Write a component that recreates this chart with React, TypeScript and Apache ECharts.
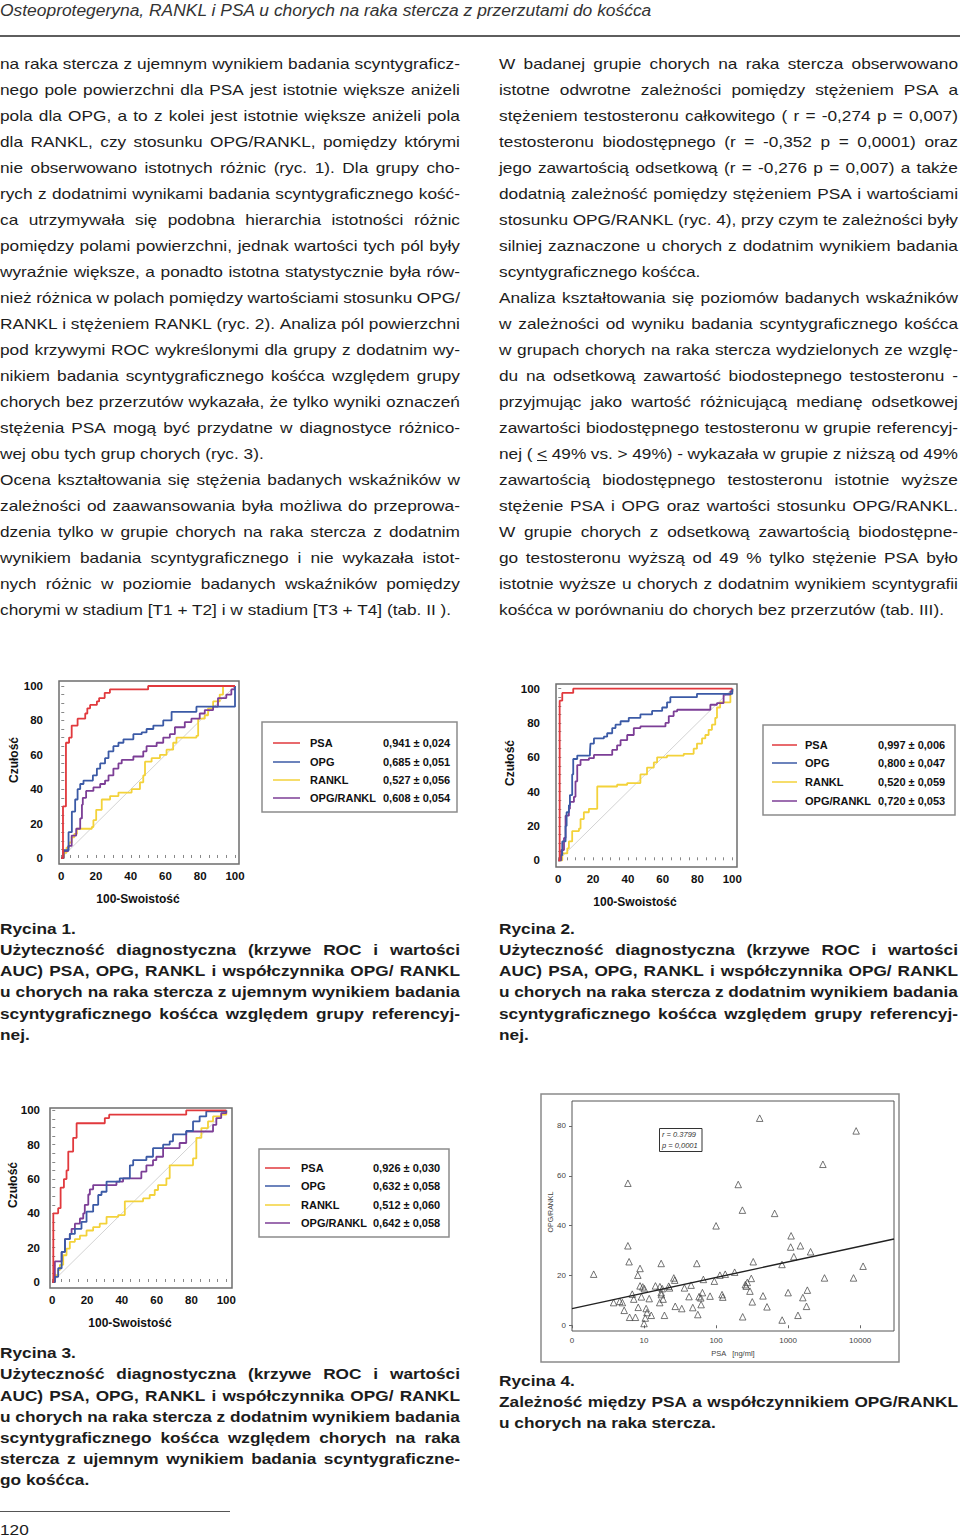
import React, { useEffect, useRef } from "react";
import * as echarts from "echarts";

const FONT = '"Liberation Sans", Arial, Helvetica, sans-serif';
const SX = 1.15;

// ---------------- ROC figure data ----------------
const rocLabelTicks = [0, 20, 40, 60, 80, 100];
const rocMinorTicks = [0, 5, 10, 15, 20, 25, 30, 35, 40, 45, 50, 55, 60, 65, 70, 75, 80, 85, 90, 95, 100];
const rocNames = ["PSA", "OPG", "RANKL", "OPG/RANKL"];
const rocColors = ["#e1393d", "#3b5aa6", "#f3d23a", "#7c3e96"];
const rocDiagonal = [[0, 0], [100, 100]];

// Rycina 1
const fig1Auc = ["0,941 ± 0,024", "0,685 ± 0,051", "0,527 ± 0,056", "0,608 ± 0,054"];
const fig1Psa = [[0, 0], [1, 30], [2.7, 67], [4.5, 70], [6, 77], [9.4, 81], [13.8, 84], [15, 87], [16.6, 89], [20.5, 91], [21.8, 93], [25, 96], [28, 98], [50, 100], [100, 100]];
const fig1Opg = [[0, 0], [1.3, 4.5], [4.2, 15], [6.1, 27], [8, 34], [9.4, 40], [10.9, 43], [12.8, 45], [18.2, 48], [20.5, 52], [22.4, 55], [25.2, 58], [27.2, 62], [30, 65], [32.9, 67], [35.8, 69], [41.5, 72], [46.3, 73], [49.1, 75], [53, 77], [58.7, 80], [63.5, 85], [77.8, 88], [100, 100]];
const fig1Rankl = [[0, 0], [1.5, 3], [3, 6], [4.5, 9], [6, 12], [7.5, 14], [9, 17], [17.6, 18], [18.5, 22], [20.1, 28], [23.3, 34], [28.1, 36], [32.9, 38], [40.5, 40], [45.3, 44], [47.2, 48], [48.2, 56], [52, 58], [56.8, 60], [60.6, 63], [64.4, 67], [66.3, 70], [77.8, 71], [78.8, 81], [82.6, 83], [84.5, 87], [87.4, 91], [91.2, 95], [93.1, 100], [100, 100]];
const fig1Ratio = [[0, 0], [1.3, 4], [4, 7], [6, 13], [8.6, 17], [10.9, 23], [11.9, 31], [12.4, 35], [14.3, 39], [18.5, 41], [22.4, 43], [25.2, 45], [27.2, 48], [30, 52], [32.9, 55], [34.8, 57], [41.5, 59], [47.2, 62], [49.1, 65], [54.9, 67], [58.7, 70], [62.5, 72], [65.4, 76], [71.1, 79], [74.9, 81], [79.7, 84], [82.6, 86], [87.4, 88], [90.2, 93], [95, 95], [97.9, 98], [99.8, 100], [100, 100]];

// Rycina 2
const fig2Auc = ["0,997 ± 0,006", "0,800 ± 0,047", "0,520 ± 0,059", "0,720 ± 0,053"];
const fig2Psa = [[0, 0], [0.8, 93], [2.3, 97.5], [8.6, 100], [100, 100]];
const fig2Opg = [[0, 0], [1.3, 3], [2.3, 11], [4.2, 20], [4.8, 28], [6.1, 32], [6.7, 38], [8, 50], [8.6, 59], [10.9, 61], [18.2, 63], [18.5, 68], [20.5, 71], [26.2, 72], [28.1, 74], [31, 77], [32.9, 79], [35.8, 81], [40.5, 83], [47.2, 85], [53.9, 87], [59.7, 89], [62.5, 92], [64.4, 95], [79.7, 97], [100, 100]];
const fig2Rankl = [[0, 0], [2.3, 4], [5.2, 7], [6.1, 11], [8, 17], [11.9, 18.5], [12.8, 24], [14.7, 28], [17.6, 30], [22.4, 43], [33.8, 44], [39.6, 45], [47.2, 50], [51, 54], [54.9, 57], [56.8, 60], [62.5, 61], [72.1, 62], [77.8, 65], [79.7, 68], [82.6, 71], [84.5, 73], [86.4, 76], [88.3, 79], [90.2, 83], [91.2, 89], [93, 92], [98.9, 98], [100, 100]];
const fig2Ratio = [[0, 0], [1.7, 6], [3.3, 13], [4.2, 26], [6.1, 30], [6.7, 34], [9, 37], [9.9, 46], [10.9, 55.5], [12.8, 58.5], [17.6, 59.5], [20.5, 61.4], [31, 64.3], [33.8, 67], [35.8, 70], [39.6, 73], [43.4, 77], [47.2, 78], [61.6, 80], [63.5, 84], [66.3, 86.7], [68.3, 87.7], [87.4, 90.6], [91.2, 91.6], [95, 96.5], [98.9, 98.4], [100, 100]];

// Rycina 3
const fig3Auc = ["0,926 ± 0,030", "0,632 ± 0,058", "0,512 ± 0,060", "0,642 ± 0,058"];
const fig3Psa = [[0, 0], [0.6, 40], [3.4, 43], [4.8, 55], [6.7, 60], [8.2, 65], [9.2, 76], [12, 84], [14, 92.5], [30.2, 95.5], [32.7, 97.5], [77, 100], [100, 100]];
const fig3Opg = [[0, 0], [1.5, 3], [3.4, 8], [5.4, 17.5], [7.3, 25], [10.1, 28], [13, 31], [16.8, 35], [19.7, 41], [23.5, 45], [26.4, 50.7], [28.3, 52.6], [31.2, 58.5], [38.8, 60.4], [44.6, 68], [46.5, 71], [54.1, 73], [57.9, 78], [63.7, 80], [67.5, 82], [69.4, 86], [77, 88], [80.9, 93.6], [84.7, 96.5], [88.5, 99.4], [100, 100]];
const fig3Rankl = [[0, 0], [1.5, 4], [3.4, 7], [4.4, 10], [6.3, 15.6], [8.2, 19.5], [10.1, 23.4], [13, 25], [15.9, 27], [19.7, 30], [23.5, 32], [27.3, 34], [31.2, 38], [37.9, 39], [41.7, 47], [52.2, 48.7], [56, 50.7], [58.9, 53.6], [60.8, 56.5], [65.6, 60.4], [67.5, 68], [80.9, 72], [82.8, 84], [85.7, 89.7], [89.5, 93.6], [92.4, 96.5], [97.1, 97.5], [100, 100]];
const fig3Ratio = [[0, 0], [1.5, 12], [5.4, 17.5], [7.3, 25], [10.1, 28], [11.1, 31], [13, 34], [15.9, 37], [17.8, 40], [18.7, 45], [20.7, 51], [21.6, 54], [23.5, 56.5], [36.9, 58.5], [40.7, 60.4], [51.2, 64.3], [54.1, 68], [57.9, 71], [59.8, 73], [63.7, 78], [73.2, 81], [77, 87.7], [92.4, 91.6], [94.3, 95.5], [97.1, 98.4], [100, 100]];

// ---------------- Rycina 4 (scatter) ----------------
const psaValues = [2.0, 3.78, 4.6, 5.0, 5.3, 5.97, 5.97, 6.2, 6.3, 6.86, 7.2, 7.6, 8.2, 8.3, 8.8, 8.8, 9.2, 9.6, 10.0, 10.1, 10.4, 10.7, 11.0, 11.8, 12.6, 14.4, 16.5, 16.6, 17.3, 17.3, 17.4, 17.9, 18.4, 19.2, 22.0, 22.6, 25.9, 26.7, 27.1, 33.4, 36.4, 42.1, 45.0, 47.5, 54.0, 55.8, 58.1, 61.3, 62.0, 64.6, 66.6, 82.5, 94.6, 100, 113, 121, 124, 134, 181, 203, 232, 234, 255, 262, 271, 295, 308, 318, 328, 403, 448, 509, 650, 822, 826, 1000, 1100, 1085, 1200, 1370, 1480, 1600, 1800, 1850, 2050, 3040, 3200, 8090, 8800, 10980];
const ratioValues = [20.5, 9.1, 9.6, 9.1, 6.0, 57, 31.9, 25.5, 3.2, 12.5, 10.5, 3.2, 20.1, 7.2, 15.8, 22.8, 11.4, 15.4, 0.7, 14.7, 2.9, 6.7, 5.1, 10.7, 4.0, 15.8, 9.1, 15.5, 24.8, 13.1, 12.3, 14.7, 10.5, 4.0, 15.7, 15.0, 19.0, 18.1, 7.6, 6.7, 15.0, 11.5, 16.1, 7.1, 24.8, 4.3, 11.5, 11.0, 8.3, 13.1, 18.4, 11.7, 17.7, 39.9, 20.1, 12.3, 11.3, 20.5, 21.3, 56.5, 46.2, 3.4, 16.3, 15.7, 17.2, 13.7, 18.8, 9.4, 25.5, 83.1, 11.8, 7.4, 44.9, 24.4, 2.1, 13.1, 35.9, 31.4, 27.5, 4.0, 31.9, 11.1, 7.6, 14.1, 29.5, 64.6, 19.0, 19.0, 78.0, 23.7];
const regressionPsa = [1, 29500];
const regressionRatio = [6.7, 34.6];
const scatterYTicks = [0, 20, 40, 60, 80];

// ---------------- Page text ----------------
const headerTitle = "Osteoprotegeryna, RANKL i PSA u chorych na raka stercza z przerzutami do kośćca";

const leftColumnLines = [
  "na raka stercza z ujemnym wynikiem badania scyntygraficz-",
  "nego pole powierzchni dla PSA jest istotnie większe aniżeli",
  "pola dla OPG, a to z kolei jest istotnie większe aniżeli pola",
  "dla RANKL, czy stosunku OPG/RANKL, pomiędzy którymi",
  "nie obserwowano istotnych różnic (ryc. 1). Dla grupy cho-",
  "rych z dodatnimi wynikami badania scyntygraficznego kość-",
  "ca utrzymywała się podobna hierarchia istotności różnic",
  "pomiędzy polami powierzchni, jednak wartości tych pól były",
  "wyraźnie większe, a ponadto istotna statystycznie była rów-",
  "nież różnica w polach pomiędzy wartościami stosunku OPG/",
  "RANKL i stężeniem RANKL (ryc. 2). Analiza pól powierzchni",
  "pod krzywymi ROC wykreślonymi dla grupy z dodatnim wy-",
  "nikiem badania scyntygraficznego kośćca względem grupy",
  "chorych bez przerzutów wykazała, że tylko wyniki oznaczeń",
  "stężenia PSA mogą być przydatne w diagnostyce różnico-",
  "wej obu tych grup chorych (ryc. 3).",
  "Ocena kształtowania się stężenia badanych wskaźników w",
  "zależności od zaawansowania była możliwa do przeprowa-",
  "dzenia tylko w grupie chorych na raka stercza z dodatnim",
  "wynikiem badania scyntygraficznego i nie wykazała istot-",
  "nych różnic w poziomie badanych wskaźników pomiędzy",
  "chorymi w stadium [T1 + T2] i w stadium [T3 + T4] (tab. II ).",
];
const leftColumnPlain = [15, 21];

const rightColumnLines = [
  "W badanej grupie chorych na raka stercza obserwowano",
  "istotne odwrotne zależności pomiędzy stężeniem PSA a",
  "stężeniem testosteronu całkowitego ( r = -0,274 p = 0,007)",
  "testosteronu biodostępnego (r = -0,352 p = 0,0001) oraz",
  "jego zawartością odsetkową (r = -0,276 p = 0,007) a także",
  "dodatnią zależność pomiędzy stężeniem PSA i wartościami",
  "stosunku OPG/RANKL (ryc. 4), przy czym te zależności były",
  "silniej zaznaczone u chorych z dodatnim wynikiem badania",
  "scyntygraficznego kośćca.",
  "Analiza kształtowania się poziomów badanych wskaźników",
  "w zależności od wyniku badania scyntygraficznego kośćca",
  "w grupach chorych na raka stercza wydzielonych ze wzglę-",
  "du na odsetkową zawartość biodostepnego testosteronu -",
  "przyjmując jako wartość różnicującą medianę odsetkowej",
  "zawartości biodostępnego testosteronu w grupie referencyj-",
  "nej ( ≤ 49% vs. > 49%) - wykazała w grupie z niższą od 49%",
  "zawartością biodostępnego testosteronu istotnie wyższe",
  "stężenie PSA i OPG oraz wartości stosunku OPG/RANKL.",
  "W grupie chorych z odsetkową zawartością biodostępne-",
  "go testosteronu wyższą od 49 % tylko stężenie PSA było",
  "istotnie wyższe u chorych z dodatnim wynikiem scyntygrafii",
  "kośćca w porównaniu do chorych bez przerzutów (tab. III).",
];
const rightColumnPlain = [8, 21];

const caption1Lines = [
  "Rycina 1.",
  "Użyteczność diagnostyczna (krzywe ROC i wartości",
  "AUC) PSA, OPG, RANKL i współczynnika OPG/ RANKL",
  "u chorych na raka stercza z ujemnym wynikiem badania",
  "scyntygraficznego kośćca względem grupy referencyj-",
  "nej.",
];
const caption2Lines = [
  "Rycina 2.",
  "Użyteczność diagnostyczna (krzywe ROC i wartości",
  "AUC) PSA, OPG, RANKL i współczynnika OPG/ RANKL",
  "u chorych na raka stercza z dodatnim wynikiem badania",
  "scyntygraficznego kośćca względem grupy referencyj-",
  "nej.",
];
const caption3Lines = [
  "Rycina 3.",
  "Użyteczność diagnostyczna (krzywe ROC i wartości",
  "AUC) PSA, OPG, RANKL i współczynnika OPG/ RANKL",
  "u chorych na raka stercza z dodatnim wynikiem badania",
  "scyntygraficznego kośćca względem chorych na raka",
  "stercza z ujemnym wynikiem badania scyntygraficzne-",
  "go kośćca.",
];
const caption4Lines = [
  "Rycina 4.",
  "Zależność między PSA a współczynnikiem OPG/RANKL",
  "u chorych na raka stercza.",
];
const pageNumber = "120";

// ---------------- layout config ----------------
const rocLayouts = [
  {
    grid: { left: 59, top: 681, width: 180, height: 183 },
    xr: [-1.3, 102.3], yr: [-3.5, 102.9], yMargin: 16,
    data: [fig1Psa, fig1Opg, fig1Rankl, fig1Ratio], auc: fig1Auc,
    box: [262, 722, 195, 90], line: [273, 300], textX: 310, valX: 383, rows: [743, 762, 780, 798],
    yName: [14, 760], xName: [138, 899],
  },
  {
    grid: { left: 556, top: 684, width: 181, height: 183 },
    xr: [-1.3, 102.7], yr: [-3.9, 102.7], yMargin: 16,
    data: [fig2Psa, fig2Opg, fig2Rankl, fig2Ratio], auc: fig2Auc,
    box: [763, 725, 192, 90], line: [772, 797], textX: 805, valX: 878, rows: [745, 763, 782, 801],
    yName: [510, 763], xName: [635, 902],
  },
  {
    grid: { left: 50, top: 1108, width: 182, height: 180 },
    xr: [-1.3, 103.3], yr: [-3.5, 101.4], yMargin: 10,
    data: [fig3Psa, fig3Opg, fig3Rankl, fig3Ratio], auc: fig3Auc,
    box: [259, 1149, 190, 88], line: [265, 290], textX: 301, valX: 373, rows: [1168, 1186, 1205, 1223],
    yName: [13, 1185], xName: [130, 1323],
  },
];

function gText(x: number, y: number, text: string, o: any = {}) {
  return {
    type: "text",
    x,
    y,
    rotation: o.rotation || 0,
    silent: true,
    style: {
      text,
      fill: o.fill || "#111",
      fontSize: o.fontSize || 11,
      fontWeight: o.fontWeight || "normal",
      fontStyle: o.fontStyle || "normal",
      fontFamily: FONT,
      align: o.align || "left",
      verticalAlign: "middle",
      textAlign: o.align || "left",
      textVerticalAlign: "middle",
    },
  };
}

function buildOption() {
  const grids: any[] = [];
  const xAxes: any[] = [];
  const yAxes: any[] = [];
  const series: any[] = [];
  const graphics: any[] = [];

  rocLayouts.forEach((L, gi) => {
    grids.push({ ...L.grid, show: true, borderColor: "#6e6e6e", borderWidth: 1.5, backgroundColor: "#fff" });
    const common = {
      type: "value",
      gridIndex: gi,
      axisLine: { show: false },
      splitLine: { show: false },
      axisTick: { show: true, inside: true, length: 3, customValues: rocMinorTicks, lineStyle: { color: "#888", width: 1 } },
    };
    xAxes.push({
      ...common,
      min: L.xr[0],
      max: L.xr[1],
      position: "bottom",
      axisLabel: { customValues: rocLabelTicks, margin: 6, fontSize: 11.5, fontWeight: "bold", color: "#111", fontFamily: FONT },
    });
    yAxes.push({
      ...common,
      min: L.yr[0],
      max: L.yr[1],
      position: "left",
      axisLabel: { customValues: rocLabelTicks, margin: L.yMargin, fontSize: 11.5, fontWeight: "bold", color: "#111", fontFamily: FONT },
    });
    series.push({
      type: "line",
      xAxisIndex: gi,
      yAxisIndex: gi,
      data: rocDiagonal,
      symbol: "none",
      silent: true,
      lineStyle: { color: "#d3d3d3", width: 1 },
    });
    [2, 3, 1, 0].forEach((si) => {
      series.push({
        type: "line",
        name: rocNames[si],
        xAxisIndex: gi,
        yAxisIndex: gi,
        data: L.data[si],
        step: "end",
        symbol: "none",
        lineStyle: { color: rocColors[si], width: 1.8 },
      });
    });
    graphics.push(gText(L.yName[0], L.yName[1], "Czułość", { fontSize: 12, fontWeight: "bold", align: "center", rotation: Math.PI / 2 }));
    graphics.push(gText(L.xName[0], L.xName[1], "100-Swoistość", { fontSize: 12, fontWeight: "bold", align: "center" }));
    graphics.push({
      type: "rect",
      silent: true,
      shape: { x: L.box[0], y: L.box[1], width: L.box[2], height: L.box[3] },
      style: { fill: "#fff", stroke: "#8c8c8c", lineWidth: 1.5 },
    });
    L.rows.forEach((ry, i) => {
      graphics.push({
        type: "line",
        silent: true,
        shape: { x1: L.line[0], y1: ry, x2: L.line[1], y2: ry },
        style: { stroke: rocColors[i], lineWidth: 1.5 },
      });
      graphics.push(gText(L.textX, ry, rocNames[i], { fontSize: 11, fontWeight: "bold" }));
      graphics.push(gText(L.valX, ry, L.auc[i], { fontSize: 11, fontWeight: "bold" }));
    });
  });

  // ---- scatter (Rycina 4) ----
  const gi = 3;
  grids.push({ left: 572, top: 1101, width: 322, height: 230, show: true, borderColor: "#555", borderWidth: 1, backgroundColor: "#fff" });
  xAxes.push({
    type: "log",
    logBase: 10,
    gridIndex: gi,
    min: 1,
    max: 29500,
    position: "bottom",
    axisLine: { show: false },
    splitLine: { show: false },
    axisTick: { show: true, inside: false, length: 3, lineStyle: { color: "#666" } },
    axisLabel: {
      margin: 5,
      fontSize: 8,
      color: "#444",
      fontFamily: FONT,
      showMaxLabel: false,
      formatter: (v: number) => {
        const r = Math.round(v);
        return r === 1 ? "0" : String(r);
      },
    },
  });
  yAxes.push({
    type: "value",
    gridIndex: gi,
    min: -2.3,
    max: 90,
    position: "left",
    axisLine: { show: false },
    splitLine: { show: false },
    axisTick: { show: true, inside: false, length: 3, customValues: scatterYTicks, lineStyle: { color: "#666" } },
    axisLabel: { customValues: scatterYTicks, margin: 6, fontSize: 8, color: "#444", fontFamily: FONT },
  });
  series.push({
    type: "scatter",
    xAxisIndex: gi,
    yAxisIndex: gi,
    data: psaValues.map((p, i) => [p, ratioValues[i]]),
    symbol: "triangle",
    symbolSize: 6.5,
    itemStyle: { color: "rgba(255,255,255,0)", borderColor: "#3f3f3f", borderWidth: 0.9 },
  });
  series.push({
    type: "line",
    xAxisIndex: gi,
    yAxisIndex: gi,
    data: regressionPsa.map((p, i) => [p, regressionRatio[i]]),
    symbol: "none",
    lineStyle: { color: "#222", width: 1.4 },
  });
  graphics.push({
    type: "rect",
    silent: true,
    z: -10,
    shape: { x: 541, y: 1094, width: 358, height: 268 },
    style: { fill: "#fff", stroke: "#8a8a8a", lineWidth: 1.5 },
  });
  graphics.push(gText(550, 1212, "OPG/RANKL", { fontSize: 7, fill: "#444", align: "center", rotation: Math.PI / 2 }));
  graphics.push(gText(733, 1353, "PSA   [ng/ml]", { fontSize: 7.5, fill: "#444", align: "center" }));
  graphics.push({
    type: "rect",
    silent: true,
    shape: { x: 659.5, y: 1128.5, width: 42.5, height: 23 },
    style: { fill: "#fff", stroke: "#333", lineWidth: 1 },
  });
  graphics.push(gText(662, 1134.5, "r = 0.3799", { fontSize: 7.5, fontStyle: "italic", fill: "#333" }));
  graphics.push(gText(662, 1145.5, "p = 0,0001", { fontSize: 7.5, fontStyle: "italic", fill: "#333" }));

  return {
    animation: false,
    backgroundColor: "transparent",
    grid: grids,
    xAxis: xAxes,
    yAxis: yAxes,
    series,
    graphic: { elements: graphics },
  };
}

function renderWord(w: string) {
  if (w.includes("≤")) {
    const parts = w.split("≤");
    return (
      <>
        {parts[0]}
        <span style={{ textDecoration: "underline" }}>{"<"}</span>
        {parts[1]}
      </>
    );
  }
  return w;
}

function TextBlock(props: {
  x: number;
  y: number;
  width: number;
  lh: number;
  size: number;
  sx?: number;
  weight?: string;
  italic?: boolean;
  color?: string;
  lines: string[];
  plain: number[];
}) {
  const { x, y, width, lh, size, sx = SX, weight = "normal", italic = false, color = "#1c1c1c", lines, plain } = props;
  return (
    <div
      style={{
        position: "absolute",
        left: x,
        top: y,
        width: width / sx,
        transform: `scaleX(${sx})`,
        transformOrigin: "0 0",
        fontFamily: FONT,
        fontSize: size,
        fontWeight: weight as any,
        fontStyle: italic ? "italic" : "normal",
        lineHeight: `${lh}px`,
        color,
      }}
    >
      {lines.map((ln, i) => {
        if (plain.includes(i)) {
          return (
            <div key={i} style={{ height: lh, whiteSpace: "pre" }}>
              {ln.split(" ").map((w, j) => (
                <React.Fragment key={j}>
                  {j > 0 ? " " : ""}
                  {renderWord(w)}
                </React.Fragment>
              ))}
            </div>
          );
        }
        const words = ln.split(" ");
        return (
          <div key={i} style={{ height: lh, display: "flex", justifyContent: "space-between", whiteSpace: "nowrap", columnGap: 3 }}>
            {words.map((w, j) => (
              <span key={j}>{renderWord(w)}</span>
            ))}
          </div>
        );
      })}
    </div>
  );
}

export default function App() {
  const ref = useRef<HTMLDivElement>(null);
  useEffect(() => {
    if (!ref.current) return;
    const chart = echarts.init(ref.current, null, { renderer: "svg" });
    chart.setOption(buildOption() as any);
    return () => chart.dispose();
  }, []);

  const captionLH = 21.2;
  return (
    <div style={{ position: "absolute", left: 0, top: 0, width: 960, height: 1538, background: "#fff", overflow: "hidden" }}>
      <div ref={ref} style={{ position: "absolute", left: 0, top: 0, width: 960, height: 1538 }} />
      <TextBlock x={0} y={0.5} width={700} lh={20} size={16} sx={1.088} italic color="#333" lines={[headerTitle]} plain={[0]} />
      <div style={{ position: "absolute", left: 0, top: 35, width: 960, height: 1.5, background: "#5e5e5e" }} />
      <TextBlock x={0} y={51} width={460} lh={26} size={15} lines={leftColumnLines} plain={leftColumnPlain} />
      <TextBlock x={499} y={51} width={459} lh={26} size={15} lines={rightColumnLines} plain={rightColumnPlain} />
      <TextBlock x={0} y={917.8} width={460} lh={captionLH} size={15} weight="bold" lines={caption1Lines} plain={[0, 5]} />
      <TextBlock x={499} y={917.8} width={459} lh={captionLH} size={15} weight="bold" lines={caption2Lines} plain={[0, 5]} />
      <TextBlock x={0} y={1342.3} width={460} lh={captionLH} size={15} weight="bold" lines={caption3Lines} plain={[0, 6]} />
      <TextBlock x={499} y={1369.8} width={459} lh={captionLH} size={15} weight="bold" lines={caption4Lines} plain={[0, 2]} />
      <div style={{ position: "absolute", left: 0, top: 1511, width: 230, height: 1.3, background: "#555" }} />
      <TextBlock x={0} y={1519} width={100} lh={captionLH} size={15} lines={[pageNumber]} plain={[0]} />
    </div>
  );
}
